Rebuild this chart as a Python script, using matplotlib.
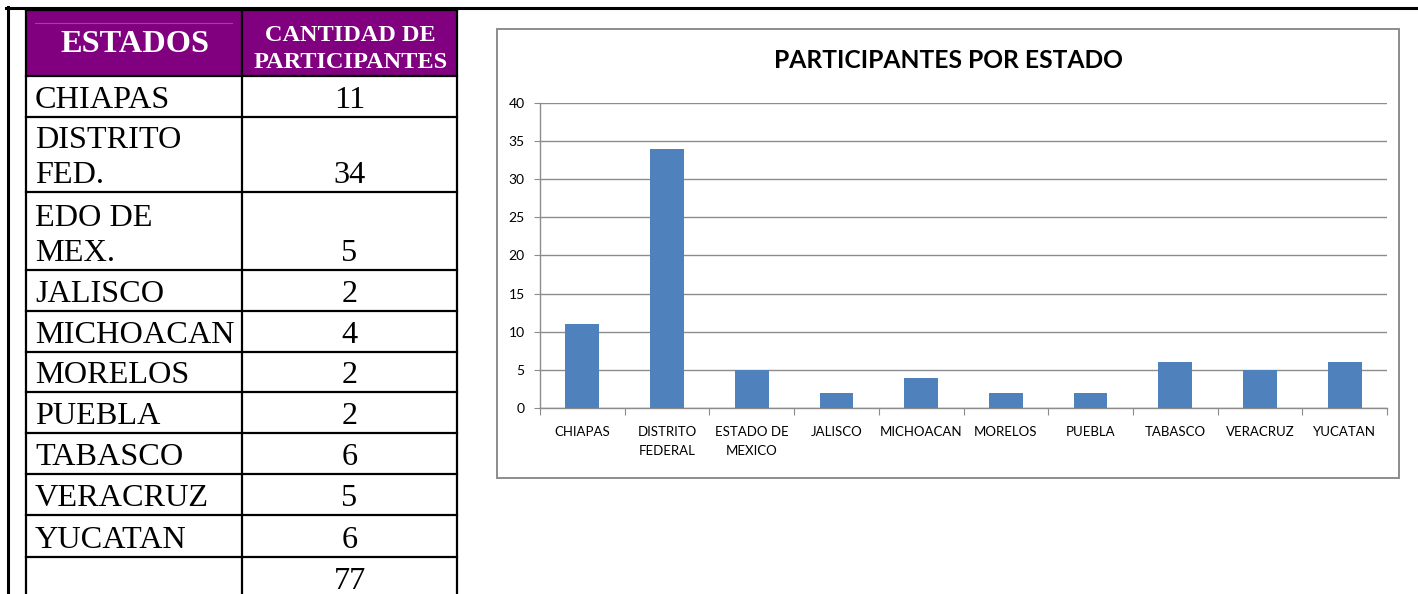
import matplotlib.pyplot as plt
import matplotlib.patches as patches

# datos de la tabla y del grafico
estados_tabla = ['CHIAPAS', 'DISTRITO\nFED.', 'EDO DE\nMEX.', 'JALISCO', 'MICHOACAN',
                 'MORELOS', 'PUEBLA', 'TABASCO', 'VERACRUZ', 'YUCATAN', '']
cantidad_tabla = ['11', '34', '5', '2', '4', '2', '2', '6', '5', '6', '77']
estados = ['CHIAPAS', 'DISTRITO\nFEDERAL', 'ESTADO DE\nMEXICO', 'JALISCO', 'MICHOACAN',
           'MORELOS', 'PUEBLA', 'TABASCO', 'VERACRUZ', 'YUCATAN']
participantes = [11, 34, 5, 2, 4, 2, 2, 6, 5, 6]
y_ticks = [0, 5, 10, 15, 20, 25, 30, 35, 40]

W, H = 1418, 594
fig = plt.figure(figsize=(W / 100, H / 100), dpi=100)

# capa en pixeles para la tabla y los bordes
page = fig.add_axes([0, 0, 1, 1])
page.set_xlim(0, W)
page.set_ylim(H, 0)
page.axis('off')

# bordes de la pagina
page.plot([6, W], [7.5, 7.5], color='black', lw=2.2)
page.plot([7.5, 7.5], [7, H], color='black', lw=2.2)

# tabla
x0, xm, x1 = 26, 242, 457
row_lines = [10, 76, 117, 192, 270, 311, 352, 392, 433, 474, 515, 557, 600]
page.add_patch(patches.Rectangle((x0, 10), x1 - x0, 66, facecolor='#800080', edgecolor='none'))
page.plot([35, 232], [23, 23], color='#a040a0', lw=0.8)
for y in row_lines[:-1]:
    page.plot([x0, x1], [y, y], color='black', lw=1.6)
for x in [x0, xm, x1]:
    page.plot([x, x], [10, H], color='black', lw=1.6)

serif = 'Liberation Serif'
page.text((x0 + xm) / 2 + 1, 44, 'ESTADOS', color='white', fontsize=23.3, fontweight='bold',
          family=serif, ha='center', va='center')
page.text((xm + x1) / 2 + 1, 49, 'CANTIDAD DE\nPARTICIPANTES', color='white', fontsize=17.5,
          fontweight='bold', family=serif, ha='center', va='center', linespacing=1.4)

for i, (est, cant) in enumerate(zip(estados_tabla, cantidad_tabla)):
    top, bot = row_lines[i + 1], row_lines[i + 2]
    if i == len(estados_tabla) - 1:
        bot = 598
    page.text(35, bot - 9, est, fontsize=23.2, family=serif, ha='left', va='baseline',
              linespacing=1.25)
    page.text((xm + x1) / 2, bot - 9, cant, fontsize=23.2, family=serif, ha='center',
              va='baseline')

# recuadro del grafico
page.add_patch(patches.Rectangle((497, 29), 902, 449, facecolor='none',
                                 edgecolor='#8c8c8c', lw=1.4))
page.text(948, 60, 'PARTICIPANTES POR ESTADO', fontsize=17.7, fontweight='bold',
          family='Lato', ha='center', va='center')

# grafico de barras
ax_l, ax_r, ax_t, ax_b = 540, 1387, 103, 408
ax = fig.add_axes([ax_l / W, 1 - ax_b / H, (ax_r - ax_l) / W, (ax_b - ax_t) / H])
ax.set_facecolor('none')
pos = list(range(len(estados)))
ax.bar(pos, participantes, width=0.4, color='#4F81BD', zorder=3)
ax.set_xlim(-0.5, len(estados) - 0.5)
ax.set_ylim(0, 40)
ax.set_yticks(y_ticks)
ax.yaxis.grid(True, color='#8c8c8c', lw=1)
ax.set_axisbelow(True)
for s in ['top', 'right']:
    ax.spines[s].set_visible(False)
for s in ['left', 'bottom']:
    ax.spines[s].set_color('#8c8c8c')
    ax.spines[s].set_linewidth(1)
ax.set_xticks([p - 0.5 for p in pos] + [len(estados) - 0.5])
ax.set_xticklabels([])
ax.set_xticks(pos, minor=True)
ax.set_xticklabels(estados, minor=True, fontsize=9.5, family='Lato', linespacing=1.65)
ax.tick_params(axis='x', which='major', length=5, color='#8c8c8c')
ax.tick_params(axis='x', which='minor', length=0, pad=13)
ax.tick_params(axis='y', length=4, color='#8c8c8c', labelsize=10, pad=7)
for t in ax.get_yticklabels():
    t.set_family('Lato')

fig.savefig('out.png', dpi=100)
